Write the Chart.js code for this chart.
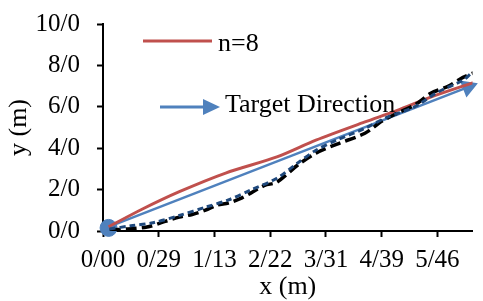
<!DOCTYPE html>
<html>
<head>
<meta charset="utf-8">
<script src="https://cdn.jsdelivr.net/npm/chart.js@4"></script>
<style>
  html, body { margin: 0; padding: 0; background: #fff; }
  #c { display: block; }
</style>
</head>
<body>
<canvas id="c" width="483" height="301"></canvas>
<script>
// tick labels as printed on the figure
const xLabels = ['0/00', '0/29', '1/13', '2/22', '3/31', '4/39', '5/46'];
const yLabels = ['0/0', '2/0', '4/0', '6/0', '8/0', '10/0'];

// x in tick-index units, y in metres
const redX = [0.1, 0.7, 1.37, 2.2, 3.12, 3.82, 4.7, 5.28, 5.88, 6.68];
const redY = [0.2, 1.05, 1.9, 2.8, 3.58, 4.39, 5.27, 5.83, 6.47, 7.2];

const targetX = [0.1, 6.55];
const targetY = [0.2, 6.95];

const blackX = [0.12, 0.45, 0.79, 1.1, 1.37, 1.6, 1.84, 2.05, 2.25, 2.45, 2.65, 2.9, 3.12, 3.5, 3.82, 4.2, 4.7, 5.0, 5.28, 5.6, 5.88, 6.2, 6.46, 6.67];
const blackY = [0.05, 0.1, 0.19, 0.45, 0.67, 0.8, 1.01, 1.25, 1.35, 1.55, 1.83, 2.2, 2.36, 3.2, 3.76, 4.2, 4.72, 5.3, 5.69, 6.1, 6.65, 7.0, 7.42, 7.66];

const navyX = [0.12, 0.5, 0.9, 1.37, 1.84, 2.25, 2.65, 3.12, 3.5, 3.82, 4.2, 4.7, 5.1, 5.58, 6.0, 6.46, 6.6];
const navyY = [0.1, 0.25, 0.4, 0.75, 1.15, 1.5, 1.98, 2.55, 3.3, 3.9, 4.4, 4.96, 5.5, 5.98, 6.7, 7.28, 7.6];

const startX = [0.1];
const startY = [0.15];

const pts = (xs, ys) => xs.map((x, i) => ({ x, y: ys[i] }));
const FONT = 'Liberation Serif, Times New Roman, serif';

const legendPlugin = {
  id: 'inlineLegend',
  afterDatasetsDraw(chart) {
    const ctx = chart.ctx;
    ctx.save();
    ctx.lineCap = 'butt';
    ctx.strokeStyle = '#c0504d';
    ctx.lineWidth = 3;
    ctx.beginPath(); ctx.moveTo(143, 41); ctx.lineTo(212, 41); ctx.stroke();

    ctx.strokeStyle = '#4f81bd';
    ctx.fillStyle = '#4f81bd';
    ctx.beginPath(); ctx.moveTo(160, 107); ctx.lineTo(206, 107); ctx.stroke();
    ctx.beginPath(); ctx.moveTo(220, 107); ctx.lineTo(203, 99); ctx.lineTo(203, 115); ctx.closePath(); ctx.fill();

    ctx.fillStyle = '#000';
    ctx.font = '26px ' + FONT;
    ctx.textBaseline = 'alphabetic';
    ctx.textAlign = 'left';
    ctx.fillText('n=8', 218, 51);
    ctx.fillText('Target Direction', 225, 112);
    ctx.restore();
  }
};

new Chart(document.getElementById('c'), {
  type: 'scatter',
  data: {
    datasets: [
      {
        label: 'n=8 path 2', data: pts(navyX, navyY), showLine: true,
        borderColor: '#1f497d', borderWidth: 3, borderDash: [6, 4], pointRadius: 0, tension: 0.3
      },
      {
        label: 'n=8 path', data: pts(blackX, blackY), showLine: true,
        borderColor: '#000', borderWidth: 3.5, borderDash: [11, 5], pointRadius: 0, tension: 0.3
      },
      {
        label: 'n=8', data: pts(redX, redY), showLine: true,
        borderColor: '#c0504d', borderWidth: 3, pointRadius: 0, tension: 0.3
      },
      {
        label: 'Target Direction', data: pts(targetX, targetY), showLine: true,
        borderColor: '#4f81bd', backgroundColor: '#4f81bd', borderWidth: 2.5,
        pointStyle: 'triangle', pointRadius: [0, 8], pointRotation: 69, clip: false
      },
      {
        label: 'start', data: pts(startX, startY),
        backgroundColor: '#4f81bd', borderColor: '#4f81bd', pointRadius: 8.5, clip: false
      }
    ]
  },
  options: {
    responsive: false,
    animation: false,
    layout: { padding: 0 },
    plugins: { legend: { display: false }, tooltip: { enabled: false } },
    scales: {
      x: {
        type: 'linear', min: 0, max: 6.63,
        afterFit: s => { s.height = 70; s.paddingLeft = 0; s.paddingRight = 0; },
        grid: { drawOnChartArea: false, drawTicks: true, tickLength: 6, tickColor: '#000', tickWidth: 2 },
        border: { color: '#000', width: 2 },
        ticks: {
          stepSize: 1, includeBounds: false, autoSkip: false, maxRotation: 0,
          color: '#000', font: { family: FONT, size: 25 }, padding: 8,
          callback: v => xLabels[v] ?? ''
        },
        title: { display: true, text: 'x (m)', color: '#000', font: { family: FONT, size: 26 }, padding: { top: 0, bottom: -2 } }
      },
      y: {
        min: 0, max: 10,
        afterFit: s => { s.width = 103; s.paddingTop = 24; s.paddingBottom = 0; },
        grid: { drawOnChartArea: false, drawTicks: true, tickLength: 6, tickColor: '#000', tickWidth: 2 },
        border: { color: '#000', width: 2 },
        ticks: {
          stepSize: 2, autoSkip: false,
          color: '#000', font: { family: FONT, size: 25 }, padding: 17,
          callback: v => yLabels[v / 2] ?? ''
        },
        title: { display: true, text: 'y (m)', color: '#000', font: { family: FONT, size: 26 }, padding: 4 }
      }
    }
  },
  plugins: [legendPlugin]
});
</script>
</body>
</html>
